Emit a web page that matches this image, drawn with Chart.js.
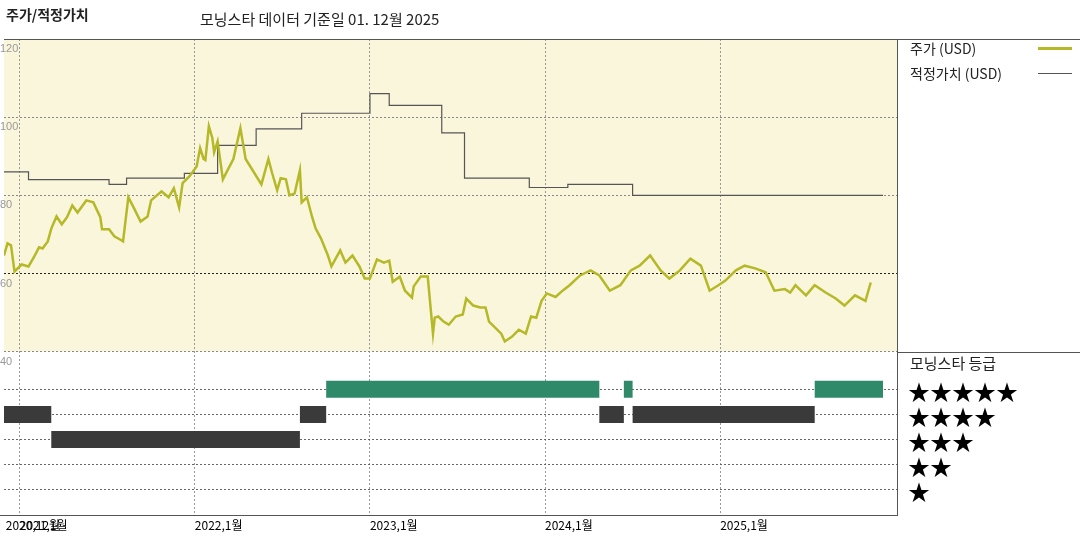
<!DOCTYPE html>
<html><head><meta charset="utf-8">
<script src="https://cdn.jsdelivr.net/npm/chart.js@4"></script>
<style>
body{margin:0;width:1080px;height:540px;position:relative;background:#fff;font-family:"Noto Sans CJK KR",sans-serif;overflow:hidden}
#c{position:absolute;left:0;top:0}
.t{position:absolute;white-space:nowrap;color:#222}
.ln{position:absolute;background:#555}
</style></head><body>
<canvas id="c" width="1080" height="540"></canvas>
<div class="t" style="left:6px;top:4px;font-size:14px;font-weight:bold">주가/적정가치</div>
<div class="t" style="left:200px;top:8px;font-size:15px">모닝스타 데이터 기준일 01. 12월 2025</div>
<div class="ln" style="left:4px;top:39px;width:1076px;height:1px"></div>
<div class="ln" style="left:897px;top:39px;width:1px;height:477px"></div>
<div class="ln" style="left:897px;top:352px;width:183px;height:1px"></div>
<div class="ln" style="left:0px;top:515px;width:898px;height:1px"></div>
<div class="t" style="left:910px;top:38px;font-size:14px">주가 (USD)</div>
<div class="ln" style="left:1038px;top:47px;width:34px;height:3px;background:#b5b827"></div>
<div class="t" style="left:910px;top:63px;font-size:14px">적정가치 (USD)</div>
<div class="ln" style="left:1038px;top:73px;width:34px;height:1px"></div>
<div class="t" style="left:910px;top:352px;font-size:15px">모닝스타 등급</div>
<div class="t" style="left:908px;top:378px;font-size:22px;line-height:25px;color:#000">★★★★★<br>★★★★<br>★★★<br>★★<br>★</div>
<script>
const priceX=[2020.91,2020.93,2020.95,2020.97,2021.01,2021.05,2021.08,2021.11,2021.13,2021.16,2021.18,2021.21,2021.24,2021.27,2021.3,2021.33,2021.38,2021.42,2021.46,2021.47,2021.51,2021.54,2021.58,2021.59,2021.62,2021.65,2021.69,2021.73,2021.75,2021.81,2021.85,2021.88,2021.91,2021.93,2021.97,2022.01,2022.03,2022.05,2022.06,2022.08,2022.1,2022.11,2022.13,2022.16,2022.19,2022.22,2022.26,2022.29,2022.38,2022.42,2022.44,2022.47,2022.49,2022.52,2022.54,2022.57,2022.6,2022.61,2022.64,2022.67,2022.69,2022.72,2022.76,2022.78,2022.83,2022.86,2022.9,2022.94,2022.97,2023.0,2023.04,2023.08,2023.11,2023.13,2023.17,2023.2,2023.24,2023.25,2023.29,2023.33,2023.36,2023.37,2023.39,2023.42,2023.45,2023.49,2023.53,2023.55,2023.59,2023.63,2023.66,2023.68,2023.75,2023.77,2023.81,2023.85,2023.89,2023.92,2023.95,2023.98,2024.01,2024.06,2024.1,2024.14,2024.2,2024.26,2024.31,2024.37,2024.43,2024.49,2024.54,2024.6,2024.66,2024.71,2024.77,2024.83,2024.89,2024.94,2024.99,2025.03,2025.09,2025.14,2025.2,2025.26,2025.31,2025.37,2025.4,2025.43,2025.49,2025.54,2025.6,2025.66,2025.71,2025.77,2025.83,2025.86,2025.89,2025.93];
const priceY=[64.6,67.7,67.2,60.5,62.3,61.8,64.1,66.7,66.4,68.2,71.5,74.6,72.6,74.4,77.4,75.6,78.7,78.2,74.4,71.3,71.3,69.5,68.5,68.2,79.5,76.9,73.3,74.6,78.7,81,79.5,81.8,76.9,83.1,84.9,87.4,92.1,89.3,89,97.7,94.6,91,93.8,84.1,86.7,89.3,97.2,89.3,82.8,89.3,85.9,81.3,84.4,84.1,80,80.5,86.4,78.2,79.5,74.4,71.5,69,64.6,61.8,65.9,62.8,64.6,61.8,58.7,58.7,63.6,62.8,63.3,57.9,59.2,55.6,53.8,56.7,59.2,59.2,44.6,48.7,49,47.7,46.9,49,49.5,53.6,51.8,51.3,51.3,47.7,44.6,42.6,43.8,45.6,44.6,49,48.7,53,54.9,54,55.6,57,59.5,60.8,59.5,55.6,57,60.8,62,64.6,60.8,58.7,60.8,63.8,62,55.6,57,58.2,60.8,62,61.3,60.3,55.6,56,55.1,57,54.4,57,55.2,53.6,51.8,54.4,53,57.7];
const fairX=[2020.91,2021.05,2021.51,2021.61,2021.94,2022.13,2022.35,2022.61,2023.0,2023.11,2023.41,2023.54,2023.91,2024.13,2024.5,2025.93];
const fairY=[86,84,82.8,84.4,85.6,92.8,97,101,106,103,96,84.4,82,82.8,80,80];
const ratingStart=[2020.91,2021.18,2022.60,2022.75,2024.31,2024.45,2024.50,2025.54];
const ratingEnd=[2021.18,2022.60,2022.75,2024.31,2024.45,2024.50,2025.54,2025.93];
const ratingValue=[4,3,4,5,4,5,4,5];
const tickYears=[2020.92,2021,2022,2023,2024,2025];
const tickLabels=['2020,12월','2021,1월','2022,1월','2023,1월','2024,1월','2025,1월'];

function ratingData(pred){const d=[];ratingStart.forEach((s,i)=>{if(pred(ratingValue[i])){d.push({x:s,y:ratingValue[i]},{x:ratingEnd[i],y:ratingValue[i]},{x:ratingEnd[i],y:null});}});return d;}
const bg={id:'bg',beforeDraw(ch){const a=ch.chartArea,y=ch.scales.y,c=ch.ctx;c.save();c.fillStyle='#faf6dc';c.fillRect(a.left,y.top,a.right-a.left,y.bottom-y.top);c.restore();}};
const cfg={type:'line',data:{datasets:[
 {data:priceX.map((x,i)=>({x,y:priceY[i]})),borderColor:'#b5b827',borderWidth:2.5,pointRadius:0,yAxisID:'y',tension:0},
 {data:fairX.map((x,i)=>({x,y:fairY[i]})),borderColor:'#555',borderWidth:1.2,pointRadius:0,stepped:'before',yAxisID:'y'},
 {data:ratingData(v=>v<5),borderColor:'#3a3a3a',borderWidth:17,borderCapStyle:'butt',pointRadius:0,spanGaps:false,yAxisID:'y2'},
 {data:ratingData(v=>v==5),borderColor:'#2f8a6a',borderWidth:17,borderCapStyle:'butt',pointRadius:0,spanGaps:false,yAxisID:'y2'}
]},
options:{animation:false,responsive:false,layout:{padding:{left:4,right:183,top:39,bottom:0}},
plugins:{legend:{display:false},tooltip:{enabled:false}},
scales:{
 x:{type:'linear',min:2020.91,max:2026.01,afterBuildTicks(s){s.ticks=tickYears.map(v=>({value:v}));},
   grid:{color:c=>c.index===0?'rgba(0,0,0,0)':'#999',drawTicks:false},border:{display:false,dash:[2,2]},
   ticks:{autoSkip:false,maxRotation:0,align:'start',padding:3,color:'#000',font:{size:12,family:'Noto Sans CJK KR'},callback:(v,i)=>tickLabels[i]},afterFit(s){s.height=25;}},
 y2:{type:'linear',position:'left',stack:'v',stackWeight:163,min:0,max:6.5,afterBuildTicks(s){s.ticks=[1,2,3,4,5].map(v=>({value:v}));},
   grid:{color:'#666',drawTicks:false},border:{display:false,dash:[2,2]},ticks:{display:false},afterFit(s){s.width=0;}},
 y:{type:'linear',position:'left',stack:'v',stackWeight:312,min:40,max:120,afterBuildTicks(s){s.ticks=[40,60,80,100,120].map(v=>({value:v}));},
   grid:{color:c=>c.tick.value===60?'#222':(c.tick.value===120?'rgba(0,0,0,0)':'#888'),drawTicks:false},border:{display:false,dash:[2,2]},
   ticks:{mirror:true,labelOffset:10,padding:-4,color:'#999',font:{size:11,family:'Liberation Sans'}},afterFit(s){s.width=0;}}
}},plugins:[bg]};
new Chart(document.getElementById('c'),cfg);
</script></body></html>
